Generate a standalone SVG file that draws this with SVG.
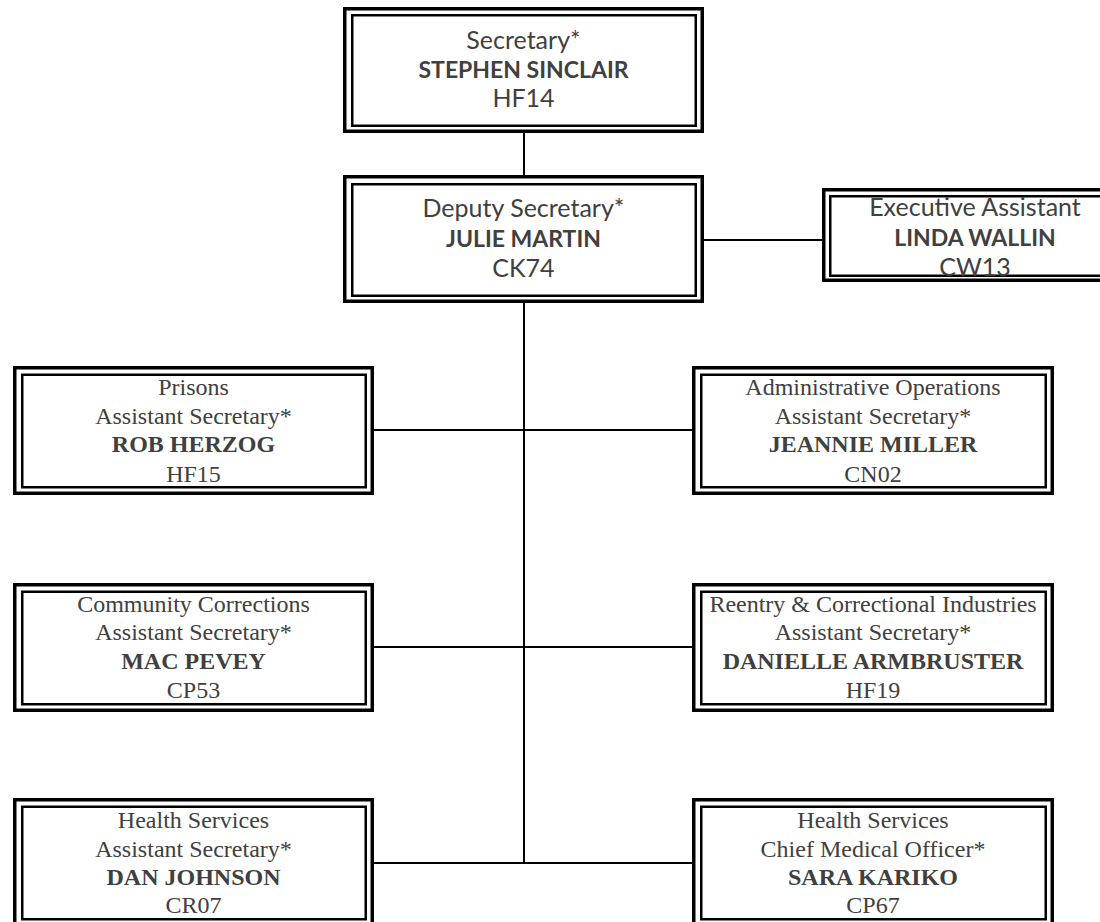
<svg xmlns="http://www.w3.org/2000/svg" width="1100" height="922" viewBox="0 0 1100 922">
<style>
.o{fill:#fff;stroke:#000;stroke-width:3.5}
.i{fill:none;stroke:#000;stroke-width:2.5}
.c{fill:none;stroke:#000;stroke-width:2}
.s{font-family:Lato,"Liberation Sans",sans-serif;font-size:25px;fill:#404040;text-anchor:middle}
.s.b{font-size:23px}
.t{font-family:"Liberation Serif","Times New Roman",serif;font-size:24px;fill:#404040;text-anchor:middle}
.b{font-weight:bold}
</style>
<rect width="1100" height="922" fill="#fff"/>
<g id="connectors">
<line class="c" x1="524" y1="133" x2="524" y2="864"/>
<line class="c" x1="704" y1="240" x2="822" y2="240"/>
<line class="c" x1="374" y1="430" x2="692" y2="430"/>
<line class="c" x1="374" y1="647" x2="692" y2="647"/>
<line class="c" x1="374" y1="863" x2="692" y2="863"/>
</g>
<g id="secretary">
<rect class="o" x="344.75" y="8.75" width="357.5" height="122.5"/>
<rect class="i" x="352.25" y="15.25" width="343.5" height="110.5"/>
<text class="s" x="523.5" y="49">Secretary*</text>
<text class="s b" x="523.5" y="78">STEPHEN SINCLAIR</text>
<text class="s" x="523.5" y="107">HF14</text>
</g>
<g id="deputy">
<rect class="o" x="344.75" y="176.75" width="357.5" height="124.5"/>
<rect class="i" x="352.25" y="184.25" width="343.5" height="111.5"/>
<text class="s" x="523.5" y="217">Deputy Secretary*</text>
<text class="s b" x="523.5" y="247">JULIE MARTIN</text>
<text class="s" x="523.5" y="277">CK74</text>
</g>
<g id="exec">
<rect class="o" x="823.75" y="189.75" width="310" height="90.5"/>
<rect class="i" x="830.25" y="196.25" width="297" height="79.5"/>
<text class="s" x="975" y="216">Executive Assistant</text>
<text class="s b" x="975" y="246">LINDA WALLIN</text>
<text class="s" x="975" y="276">CW13</text>
</g>
<g id="prisons">
<rect class="o" x="14.75" y="367.75" width="357.5" height="125.5"/>
<rect class="i" x="22.25" y="374.75" width="343.5" height="112.5"/>
<text class="t" x="193.5" y="395">Prisons</text>
<text class="t" x="193.5" y="424">Assistant Secretary*</text>
<text class="t b" x="193.5" y="452">ROB HERZOG</text>
<text class="t" x="193.5" y="482">HF15</text>
</g>
<g id="admin">
<rect class="o" x="693.75" y="367.75" width="358.5" height="125.5"/>
<rect class="i" x="701.25" y="374.75" width="344.5" height="112.5"/>
<text class="t" x="873" y="395">Administrative Operations</text>
<text class="t" x="873" y="424">Assistant Secretary*</text>
<text class="t b" x="873" y="452">JEANNIE MILLER</text>
<text class="t" x="873" y="482">CN02</text>
</g>
<g id="community">
<rect class="o" x="14.75" y="584.75" width="357.5" height="125.5"/>
<rect class="i" x="22.25" y="591.75" width="343.5" height="112.5"/>
<text class="t" x="193.5" y="612">Community Corrections</text>
<text class="t" x="193.5" y="640">Assistant Secretary*</text>
<text class="t b" x="193.5" y="669">MAC PEVEY</text>
<text class="t" x="193.5" y="698">CP53</text>
</g>
<g id="reentry">
<rect class="o" x="693.75" y="584.75" width="358.5" height="125.5"/>
<rect class="i" x="701.25" y="591.75" width="344.5" height="112.5"/>
<text class="t" x="873" y="612">Reentry &amp; Correctional Industries</text>
<text class="t" x="873" y="640">Assistant Secretary*</text>
<text class="t b" x="873" y="669">DANIELLE ARMBRUSTER</text>
<text class="t" x="873" y="698">HF19</text>
</g>
<g id="health">
<rect class="o" x="14.75" y="799.75" width="357.5" height="126"/>
<rect class="i" x="22.25" y="806.75" width="343.5" height="112.5"/>
<text class="t" x="193.5" y="828">Health Services</text>
<text class="t" x="193.5" y="857">Assistant Secretary*</text>
<text class="t b" x="193.5" y="885">DAN JOHNSON</text>
<text class="t" x="193.5" y="913">CR07</text>
</g>
<g id="cmo">
<rect class="o" x="693.75" y="799.75" width="358.5" height="126"/>
<rect class="i" x="701.25" y="806.75" width="344.5" height="112.5"/>
<text class="t" x="873" y="828">Health Services</text>
<text class="t" x="873" y="857">Chief Medical Officer*</text>
<text class="t b" x="873" y="885">SARA KARIKO</text>
<text class="t" x="873" y="913">CP67</text>
</g>
</svg>
